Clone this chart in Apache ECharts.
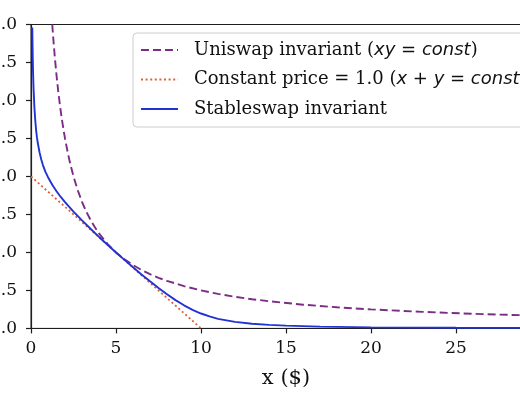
<!DOCTYPE html>
<html>
<head>
<meta charset="utf-8">
<script src="https://cdn.jsdelivr.net/npm/echarts@6/dist/echarts.min.js"></script>
<style>
html,body{margin:0;padding:0;background:#fff;}
#chart{width:520px;height:400px;}
</style>
</head>
<body>
<div id="chart"></div>
<script>
// ---- data ----
var seriesNames = ['Uniswap invariant', 'Constant price', 'Stableswap invariant'];

var uniswapX = [1.25, 1.3, 1.4, 1.5, 1.6, 1.7, 1.8, 1.9, 2, 2.15, 2.3, 2.5, 2.75, 3, 3.25, 3.5, 3.75, 4, 4.5, 5, 5.5, 6, 6.5, 7, 7.5, 8, 9, 10, 11, 12, 13, 14, 16, 18, 20, 23, 26, 30];
var uniswapY = [20, 19.23, 17.86, 16.67, 15.63, 14.71, 13.89, 13.16, 12.5, 11.63, 10.87, 10, 9.09, 8.33, 7.69, 7.14, 6.67, 6.25, 5.56, 5, 4.55, 4.17, 3.85, 3.57, 3.33, 3.13, 2.78, 2.5, 2.27, 2.08, 1.92, 1.79, 1.56, 1.39, 1.25, 1.09, 0.96, 0.83];

var constX = [0, 10];
var constY = [10, 0];

var stableX = [0.075, 0.09, 0.1, 0.12, 0.15, 0.2, 0.25, 0.3, 0.35, 0.4, 0.5, 0.6, 0.7, 0.85, 1, 1.25, 1.5, 1.75, 2, 2.5, 3, 3.5, 4, 4.5, 5, 5.5, 6, 6.5, 7, 7.5, 8, 8.5, 9, 9.5, 10, 10.5, 11, 12, 13, 14, 15, 17, 20, 25, 30];
var stableY = [19.8, 18.7, 18.0, 16.9, 15.8, 14.55, 13.7, 13.05, 12.57, 12.2, 11.6, 11.13, 10.75, 10.3, 9.95, 9.45, 9.03, 8.65, 8.31, 7.69, 7.11, 6.56, 6.02, 5.51, 5.0, 4.51, 4.02, 3.55, 3.10, 2.66, 2.25, 1.86, 1.52, 1.22, 0.98, 0.79, 0.63, 0.43, 0.31, 0.23, 0.18, 0.12, 0.07, 0.04, 0.03];

var xTicks = [0, 5, 10, 15, 20, 25, 30];
var yTicks = [0, 2.5, 5, 7.5, 10, 12.5, 15, 17.5, 20];
var xAxisTitle = 'x ($)';

function pairs(xs, ys) { return xs.map(function (x, i) { return [x, ys[i]]; }); }

var legendRich = {
  '0': '{sp|}{r|Uniswap invariant (}{i|xy}{m| = }{i|const}{r|)}',
  '1': '{sp|}{r|Constant price = 1.0 (}{i|x}{m| + }{i|y}{m| = }{i|const}{r|)}',
  '2': '{sp|}{r|Stableswap invariant}'
};

var chart = echarts.init(document.getElementById('chart'), null, {renderer: 'canvas'});
var axisColor = '#1e1e1e';
var serif = 'DejaVu Serif';
var fs = 18;

chart.setOption({
  backgroundColor: '#ffffff',
  animation: false,
  textStyle: {fontFamily: serif},
  grid: {left: 31, top: 24.5, width: 510, height: 303.9, containLabel: false, outerBoundsMode: 'none',
         show: true, borderColor: axisColor, borderWidth: 1, backgroundColor: 'transparent'},
  xAxis: {
    type: 'value', min: xTicks[0], max: xTicks[xTicks.length - 1], interval: 5,
    name: xAxisTitle, nameLocation: 'middle', nameGap: 40,
    nameTextStyle: {fontFamily: serif, fontSize: 21, color: '#111'},
    axisLine: {show: true, lineStyle: {color: axisColor, width: 1.2}},
    axisTick: {show: true, inside: false, length: 5, lineStyle: {color: axisColor, width: 1.2}},
    axisLabel: {margin: 12, fontSize: 17, color: '#111', fontFamily: serif},
    splitLine: {show: false}
  },
  yAxis: {
    type: 'value', min: yTicks[0], max: yTicks[yTicks.length - 1], interval: 2.5,
    axisLine: {show: true, lineStyle: {color: axisColor, width: 1.2}},
    axisTick: {show: true, inside: false, length: 5, lineStyle: {color: axisColor, width: 1.2}},
    axisLabel: {margin: 14, fontSize: 17, color: '#111', fontFamily: serif, formatter: function (v) { return v.toFixed(1); }},
    splitLine: {show: false}
  },
  legend: {
    orient: 'vertical', left: 133, top: 33,
    padding: [7, 10, 8, 7],
    itemWidth: 37, itemHeight: 14, itemGap: 9.5,
    backgroundColor: 'rgba(255,255,255,0.85)', borderColor: '#cccccc', borderWidth: 1, borderRadius: 4,
    itemStyle: {opacity: 0},
    data: seriesNames,
    formatter: function (name) { return legendRich[seriesNames.indexOf(name)]; },
    textStyle: {
      color: '#111', fontSize: fs, lineHeight: 20, height: 20,
      rich: {
        sp: {width: 11, height: 20},
        r: {fontFamily: serif, fontSize: fs, lineHeight: 20, height: 20, color: '#111'},
        i: {fontFamily: 'DejaVu Sans', fontStyle: 'italic', fontSize: fs, lineHeight: 20, height: 20, color: '#111'},
        m: {fontFamily: 'DejaVu Sans', fontSize: fs, lineHeight: 20, height: 20, color: '#111'}
      }
    }
  },
  series: [
    {
      name: seriesNames[0], type: 'line', data: pairs(uniswapX, uniswapY),
      symbol: 'none', smooth: false, z: 2,
      lineStyle: {color: '#7b2d86', width: 1.9, type: [8, 4]}, itemStyle: {color: '#7b2d86'}
    },
    {
      name: seriesNames[1], type: 'line', data: pairs(constX, constY),
      symbol: 'none', z: 3,
      lineStyle: {color: '#e0603a', width: 1.8, type: [2, 2.6]}, itemStyle: {color: '#e0603a'}
    },
    {
      name: seriesNames[2], type: 'line', data: pairs(stableX, stableY),
      symbol: 'none', smooth: false, z: 4,
      lineStyle: {color: '#2233d4', width: 1.9, type: 'solid'}, itemStyle: {color: '#2233d4'}
    }
  ]
});
</script>
</body>
</html>
